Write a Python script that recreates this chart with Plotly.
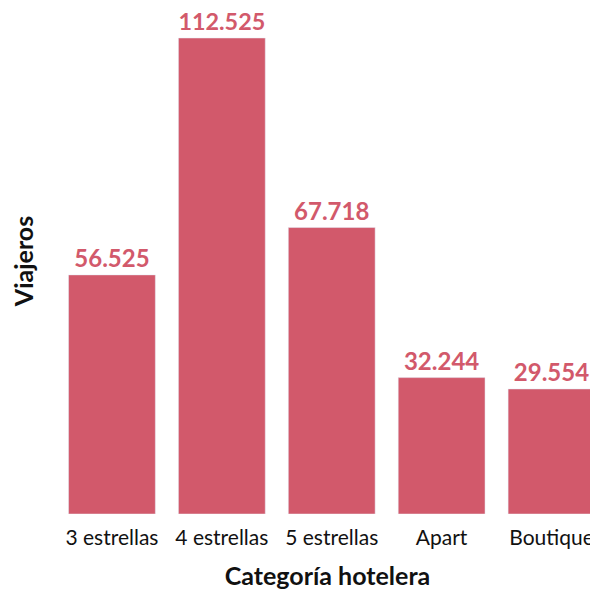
import plotly.graph_objects as go

categorias = ["3 estrellas", "4 estrellas", "5 estrellas", "Apart", "Boutique"]
viajeros = [56525, 112525, 67718, 32244, 29554]
etiquetas = ["56.525", "112.525", "67.718", "32.244", "29.554"]

color = "#d2596b"
fuente = "Lato"

fig = go.Figure(go.Bar(
    x=categorias, y=viajeros, text=etiquetas, textposition="outside",
    marker_color=color, cliponaxis=False,
    textfont=dict(family=fuente, size=24, color=color, weight="bold"),
))
fig.update_layout(
    width=590, height=582, bargap=0.21,
    margin=dict(l=48.5, r=0, t=0, b=76),
    plot_bgcolor="white", paper_bgcolor="white",
    font=dict(family=fuente, color="#111111"),
    showlegend=False,
    xaxis=dict(range=[-0.5, 4.423], showgrid=False, showline=False, ticks="",
               automargin=False, ticklabelstandoff=9,
               tickfont=dict(size=21, family=fuente),
               title=dict(text="<b>Categoría hotelera</b>", font=dict(size=25, family=fuente), standoff=21)),
    yaxis=dict(range=[0, 119617], showgrid=False, showticklabels=False, zeroline=False, ticks="",
               automargin=False,
               title=dict(text="<b>Viajeros</b>", font=dict(size=25, family=fuente), standoff=18)),
)
fig.write_html("out.html")
